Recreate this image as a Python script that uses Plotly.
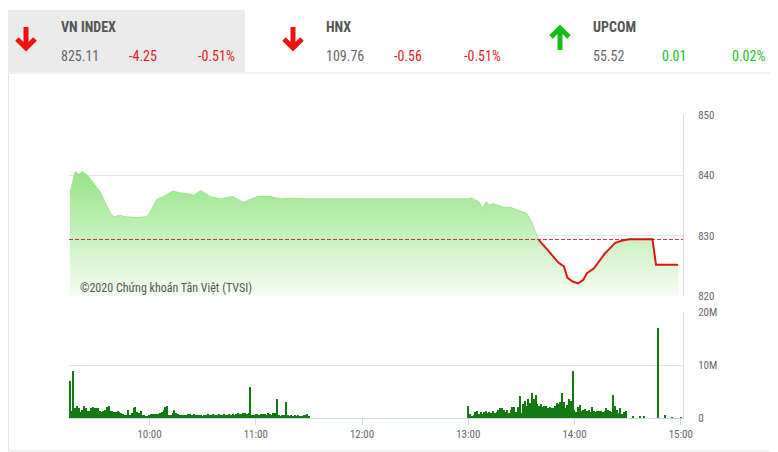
import plotly.graph_objects as go
import pandas as pd

DAY = "2020-06-01 "
REF = 829.36

# ---- header quotes ----
idx_names = ["VN INDEX", "HNX", "UPCOM"]
idx_last = ["825.11", "109.76", "55.52"]
idx_chg = ["-4.25", "-0.56", "0.01"]
idx_pct = ["-0.51%", "-0.51%", "0.02%"]
idx_up = [False, False, True]

# ---- intraday VN-Index line ----
line_times = ["09:15", "09:18", "09:20", "09:22", "09:25", "09:28", "09:32", "09:35", "09:38",
              "09:40", "09:43", "09:47", "09:53", "09:58", "10:00", "10:04", "10:08", "10:13",
              "10:17", "10:21", "10:25", "10:29", "10:34", "10:40", "10:47", "10:53", "11:01",
              "11:08", "11:14", "11:21", "11:29", "11:30",
              "13:00", "13:01", "13:02", "13:06", "13:08", "13:10", "13:12", "13:14", "13:20",
              "13:24", "13:27", "13:33", "13:36", "13:39", "13:40", "13:44", "13:48", "13:51",
              "13:54", "13:56", "13:59", "14:02", "14:05", "14:07", "14:11", "14:13", "14:17",
              "14:20", "14:23", "14:27", "14:31", "14:44", "14:46", "14:58:30"]
line_values = [837.0, 840.6, 840.2, 840.6, 840.0, 838.9, 837.3, 835.4, 833.7,
               833.1, 833.4, 833.1, 833.0, 833.1, 833.7, 836.0, 836.5, 837.4,
               837.1, 837.0, 836.7, 837.5, 836.5, 836.1, 836.5, 835.5, 836.5,
               836.5, 836.1, 836.2, 836.1, 836.1,
               836.1, 836.2, 836.3, 835.6, 834.5, 835.6, 835.1, 835.3, 834.7,
               834.7, 834.3, 833.7, 832.1, 829.8, 829.2, 827.9, 826.5, 825.5,
               824.9, 823.0, 822.4, 822.1, 822.7, 823.8, 824.6, 825.4, 827.0,
               827.9, 828.8, 829.2, 829.4, 829.4, 825.2, 825.2]

# ---- volume (millions of shares), one bar per minute ----
vol_morning_start = "09:15"
vol_morning = [6.9, 1.4, 8.8, 1.8, 2.3, 1.8, 1.1, 1.6, 2.3, 1.8,
               1.4, 1.4, 1.9, 2.0, 1.9, 1.8, 1.8, 1.4, 1.1, 1.4,
               1.6, 2.0, 2.2, 1.4, 1.4, 1.1, 1.1, 1.4, 1.1, 0.9,
               0.75, 0.6, 0.6, 1.6, 0.6, 0.9, 1.9, 2.0, 1.1, 0.9,
               1.4, 0.5, 0.5, 0.45, 0.45, 0.6, 0.75, 0.8, 0.75, 0.8,
               0.8, 0.9, 1.1, 1.6, 2.0, 2.2, 0.5, 0.6, 0.9, 1.6,
               0.9, 0.75, 0.6, 0.6, 0.5, 0.6, 0.6, 0.7, 0.8, 0.6,
               0.7, 0.6, 0.55, 0.5, 0.5, 0.45, 0.55, 0.5, 0.7, 0.6,
               0.5, 0.7, 0.6, 0.5, 0.7, 0.6, 0.6, 0.75, 0.6, 0.6,
               0.7, 0.6, 0.8, 0.6, 0.8, 0.9, 0.7, 0.75, 1.0, 0.9,
               0.8, 1.0, 5.8, 0.6, 0.5, 0.7, 0.7, 0.5, 0.8, 0.7,
               0.8, 0.5, 0.9, 0.8, 0.6, 0.9, 1.0, 3.5, 0.5, 0.45,
               0.6, 0.6, 3.0, 0.5, 0.45, 0.6, 0.4, 0.5, 0.45, 0.5,
               0.4, 0.3, 0.5, 0.6, 0.8, 0.2]
vol_afternoon_start = "13:00"
vol_afternoon = [2.3, 0.75, 0.3, 0.6, 1.1, 1.25, 0.75, 1.1, 0.75, 1.1,
                 1.25, 0.9, 1.1, 0.9, 1.25, 0.9, 1.1, 1.6, 1.9, 1.9,
                 1.6, 1.1, 1.6, 0.9, 1.5, 2.1, 2.1, 1.1, 2.0, 4.1,
                 0.9, 2.6, 3.3, 2.3, 3.5, 2.8, 4.7, 3.6, 4.4, 2.6,
                 2.2, 2.6, 2.1, 2.3, 2.2, 1.9, 2.0, 1.9, 1.9, 2.3,
                 2.8, 2.6, 3.0, 4.8, 3.1, 1.9, 2.5, 3.6, 3.2, 8.9,
                 1.6, 1.2, 2.0, 2.5, 1.3, 1.5, 1.7, 1.3, 1.5, 1.1,
                 2.1, 1.3, 1.2, 1.4, 1.4, 1.4, 1.2, 1.4, 1.8, 1.6,
                 1.4, 1.2, 4.4, 2.2, 1.6, 1.0, 1.8, 0.8, 1.2, 1.4]
vol_late_times = ["14:33", "14:37", "14:39", "14:47", "14:51", "14:55", "15:00"]
vol_late = [0.45, 0.3, 0.45, 17.0, 0.6, 0.15, 0.15]

# ---------------- build ----------------
lt = pd.to_datetime([DAY + t for t in line_times], format="mixed")
vt = (list(pd.date_range(DAY + vol_morning_start, periods=len(vol_morning), freq="1min")) +
      list(pd.date_range(DAY + vol_afternoon_start, periods=len(vol_afternoon), freq="1min")) +
      list(pd.to_datetime([DAY + t for t in vol_late_times], format="mixed")))
vv = [v * 1e6 for v in vol_morning + vol_afternoon + vol_late]

# red part: from the point where the index crosses below the reference
ci = next(i for i, v in enumerate(line_values) if v < REF)
v0, v1 = line_values[ci - 1], line_values[ci]
t0, t1 = lt[ci - 1], lt[ci]
tc = t0 + (t1 - t0) * ((v0 - REF) / (v0 - v1))
red_x = [tc] + list(lt[ci:])
red_y = [REF] + line_values[ci:]

# page has an 8px body margin: lay out in reference pixel coords, offset by OFF
OFF = 8
W, H = 778 - OFF, 452 - OFF
L, R, T, B = 69 - OFF, 95, 115 - OFF, 34
PW, PH = W - L - R, H - T - B


def px(x):
    return (x - OFF - L) / PW


def py(y):
    return (H - B - (y - OFF)) / PH


top_dom = [py(296), 1.0]
bot_dom = [0.0, py(312)]

fig = go.Figure()
fig.add_trace(go.Scatter(x=lt, y=[820] * len(lt), mode="lines", line=dict(width=0),
                         xaxis="x2", yaxis="y", hoverinfo="skip", showlegend=False))
fig.add_trace(go.Scatter(x=lt, y=line_values, mode="lines", fill="tonexty",
                         line=dict(color="#9fe591", width=1),
                         fillgradient=dict(type="vertical", start=820, stop=840.6,
                                           colorscale=[[0, "#f6fdf4"], [1, "#96e487"]]),
                         xaxis="x2", yaxis="y", showlegend=False))
fig.add_trace(go.Scatter(x=red_x, y=red_y, mode="lines", line=dict(color="#e01414", width=2),
                         xaxis="x2", yaxis="y", showlegend=False))
fig.add_trace(go.Bar(x=vt, y=vv, marker=dict(color="#137a13", line=dict(width=0)),
                     width=40000, xaxis="x", yaxis="y2", showlegend=False))

xr = [DAY + "09:14:30", DAY + "15:01:15"]
hours = ["10:00", "11:00", "12:00", "13:00", "14:00", "15:00"]
tickfont = dict(family="Roboto Condensed, Liberation Sans Narrow, Roboto, sans-serif", size=11, color="#666666")

fig.update_layout(
    width=W, height=H, margin=dict(l=L, r=R, t=T, b=B),
    paper_bgcolor="white", plot_bgcolor="white", bargap=0,
    xaxis=dict(domain=[0, 1], anchor="y2", type="date", range=xr,
               tickvals=[DAY + h for h in hours], ticktext=hours,
               ticks="outside", ticklen=6, tickcolor="#ccd6eb", showgrid=False,
               showline=True, linecolor="#ccd6eb", zeroline=False, tickfont=tickfont),
    xaxis2=dict(domain=[0, 1], anchor="y", type="date", range=xr, matches="x",
                showticklabels=False, ticks="", showgrid=False, showline=False, zeroline=False),
    yaxis=dict(domain=top_dom, anchor="x2", side="right", range=[820, 850],
               tickvals=[820, 830, 840, 850], gridcolor="#e2e2e2", showline=True,
               linecolor="#d8dce4", zeroline=False, ticks="", ticklabelstandoff=12,
               tickfont=tickfont),
    yaxis2=dict(domain=bot_dom, anchor="x", side="right", range=[0, 20e6],
                tickvals=[0, 1e7, 2e7], ticktext=["0", "10M", "20M"], gridcolor="#e2e2e2",
                showline=True, linecolor="#d8dce4", zeroline=False, ticks="",
                ticklabelstandoff=12, tickfont=tickfont),
)

shapes = [
    dict(type="rect", xref="paper", yref="paper", x0=px(8), x1=px(245), y0=py(72), y1=py(10),
         fillcolor="#ebebeb", line=dict(width=0), layer="below"),
    dict(type="rect", xref="paper", yref="paper", x0=px(8.5), x1=px(777), y0=py(451), y1=py(73),
         fillcolor="rgba(0,0,0,0)", line=dict(color="#e4e4e4", width=1), layer="below"),
    dict(type="line", xref="paper", yref="y", x0=0, x1=1, y0=REF, y1=REF,
         line=dict(color="rgba(185,25,25,0.85)", width=1, dash="4px,2px"), layer="above"),
]

ann = []
hdr_font = "Roboto Condensed, Liberation Sans Narrow, Roboto, sans-serif"
col_x = [(26, 59, 127, 196), (293, 324, 392, 462), (560, 591, 660, 730)]
for k in range(3):
    ax, tx, cx, pcx = col_x[k]
    up = idx_up[k]
    colr = "#15c015" if up else "#ee1111"
    if up:
        path = (f"M {px(ax)} {py(50)} L {px(ax)} {py(29)} "
                f"M {px(ax - 9)} {py(37)} L {px(ax)} {py(28)} L {px(ax + 9)} {py(37)}")
    else:
        path = (f"M {px(ax)} {py(27)} L {px(ax)} {py(47)} "
                f"M {px(ax - 9)} {py(39)} L {px(ax)} {py(48)} L {px(ax + 9)} {py(39)}")
    shapes.append(dict(type="path", xref="paper", yref="paper", path=path,
                       line=dict(color=colr, width=5)))
    ann.append(dict(xref="paper", yref="paper", x=px(tx), y=py(27), text="<b>" + idx_names[k] + "</b>",
                    showarrow=False, xanchor="left", yanchor="middle",
                    font=dict(family=hdr_font, size=14, color="#555555")))
    ann.append(dict(xref="paper", yref="paper", x=px(tx), y=py(56), text=idx_last[k],
                    showarrow=False, xanchor="left", yanchor="middle",
                    font=dict(family=hdr_font, size=14, color="#666666")))
    vcol = "#1cc01c" if up else "#e51c1c"
    ann.append(dict(xref="paper", yref="paper", x=px(cx), y=py(56), text=idx_chg[k],
                    showarrow=False, xanchor="left", yanchor="middle",
                    font=dict(family=hdr_font, size=14, color=vcol)))
    ann.append(dict(xref="paper", yref="paper", x=px(pcx), y=py(56), text=idx_pct[k],
                    showarrow=False, xanchor="left", yanchor="middle",
                    font=dict(family=hdr_font, size=14, color=vcol)))

ann.append(dict(xref="paper", yref="paper", x=px(78), y=py(288),
                text="©2020 Chứng khoán Tân Việt (TVSI)", showarrow=False,
                xanchor="left", yanchor="middle",
                font=dict(family=hdr_font, size=12, color="#555555")))

fig.update_layout(shapes=shapes, annotations=ann)
fig.write_html("out.html")
